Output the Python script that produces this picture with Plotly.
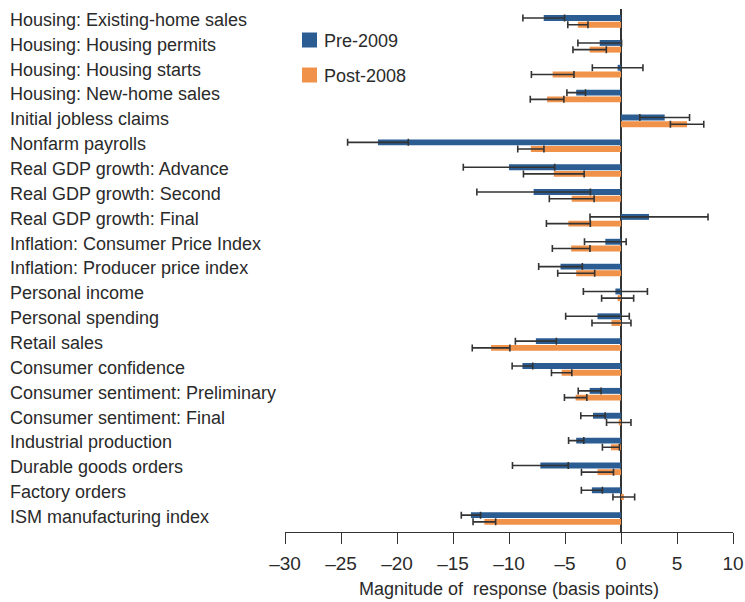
import plotly.graph_objects as go

categories = [
    "Housing: Existing-home sales", "Housing: Housing permits", "Housing: Housing starts",
    "Housing: New-home sales", "Initial jobless claims", "Nonfarm payrolls",
    "Real GDP growth: Advance", "Real GDP growth: Second", "Real GDP growth: Final",
    "Inflation: Consumer Price Index", "Inflation: Producer price index", "Personal income",
    "Personal spending", "Retail sales", "Consumer confidence",
    "Consumer sentiment: Preliminary", "Consumer sentiment: Final", "Industrial production",
    "Durable goods orders", "Factory orders", "ISM manufacturing index",
]
pre_2009 = [-6.9, -1.9, -0.3, -4.0, 3.9, -21.7, -10.0, -7.8, 2.5, -1.4, -5.4, -0.5,
            -2.1, -7.6, -8.8, -2.8, -2.5, -4.0, -7.2, -2.6, -13.4]
pre_err = [1.86, 1.95, 2.26, 0.83, 2.22, 2.71, 4.08, 5.07, 5.27, 1.86, 1.95, 2.86,
           2.84, 1.83, 0.92, 1.02, 1.09, 0.68, 2.49, 0.94, 0.86]
post_2008 = [-3.85, -2.8, -6.1, -6.6, 5.9, -8.05, -6.0, -4.4, -4.7, -4.45, -4.0, -0.3,
             -0.85, -11.6, -5.3, -4.05, -0.2, -0.9, -2.1, 0.25, -12.2]
post_err = [0.9, 1.49, 1.9, 1.5, 1.49, 1.17, 2.71, 2.0, 1.96, 1.68, 1.65, 1.43,
            1.74, 1.68, 0.91, 1.0, 1.09, 0.76, 1.43, 0.97, 1.01]
tick_vals = [-30, -25, -20, -15, -10, -5, 0, 5, 10]
tick_text = ["\u201330", "\u201325", "\u201320", "\u201315", "\u201310", "\u20135", "0", "5", "10"]
series_names = ["Pre-2009", "Post-2008"]

BLUE = "#2B5D93"
ORANGE = "#F0924A"
FONT = "Liberation Sans, Arial, sans-serif"
TXT = "#2a2a2a"

fig = go.Figure()
fig.add_trace(go.Bar(
    y=categories, x=pre_2009, orientation="h", name=series_names[0],
    marker=dict(color=BLUE, line=dict(width=0)),
    error_x=dict(type="data", array=pre_err, color="#333333", thickness=1.6, width=3.5),
))
fig.add_trace(go.Bar(
    y=categories, x=post_2008, orientation="h", name=series_names[1],
    marker=dict(color=ORANGE, line=dict(width=0)),
    error_x=dict(type="data", array=post_err, color="#333333", thickness=1.6, width=3.5),
))

annotations = []
for c in categories:
    annotations.append(dict(
        x=-0.6183, xref="paper", y=c, yref="y", xanchor="left", yanchor="middle",
        text=c, showarrow=False, yshift=1.5, font=dict(family=FONT, size=18, color=TXT),
    ))

# legend
plot_h = 523
def py(p):
    return (532 - p) / plot_h
leg = [(series_names[0], BLUE, 40), (series_names[1], ORANGE, 75)]
shapes = []
for name, col, cy in leg:
    shapes.append(dict(type="rect", xref="paper", yref="paper",
                       x0=(302 - 285) / 448, x1=(317 - 285) / 448,
                       y0=py(cy + 7.5), y1=py(cy - 7.5),
                       fillcolor=col, line=dict(width=0)))
    annotations.append(dict(x=(322 - 285) / 448, xref="paper", y=py(cy + 1), yref="paper",
                            xanchor="left", yanchor="middle", text=name, showarrow=False,
                            font=dict(family=FONT, size=18, color=TXT)))

fig.update_layout(
    width=745, height=602,
    margin=dict(l=285, r=12, t=9, b=70),
    paper_bgcolor="white", plot_bgcolor="white",
    barmode="group", bargap=0.46, bargroupgap=0.12,
    showlegend=False,
    annotations=annotations, shapes=shapes,
    font=dict(family=FONT, color=TXT),
    xaxis=dict(
        range=[-30, 10], tickvals=tick_vals, ticktext=tick_text, automargin=False,
        showgrid=False, zeroline=True, zerolinecolor="#333333", zerolinewidth=1.6,
        showline=True, linecolor="#333333", linewidth=1.3,
        ticks="outside", ticklen=11, tickwidth=1.3, tickcolor="#333333",
        ticklabelstandoff=3,
        tickfont=dict(family=FONT, size=19, color=TXT),
        title=dict(text="Magnitude of\u00a0 response (basis points)",
                   font=dict(family=FONT, size=18, color=TXT), standoff=9),
    ),
    yaxis=dict(
        autorange="reversed", showticklabels=False, showgrid=False, automargin=False,
        showline=False, ticks="", zeroline=False,
    ),
)

fig.write_html("out.html", config={"displayModeBar": False},
               post_script="document.body.style.margin='0';document.body.style.overflow='hidden';")
